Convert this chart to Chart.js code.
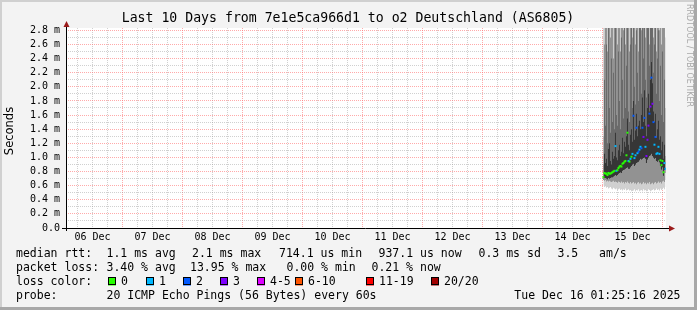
<!DOCTYPE html>
<html>
<head>
<meta charset="utf-8">
<script src="https://cdn.jsdelivr.net/npm/chart.js@4.4.1/dist/chart.umd.min.js"></script>
<style>
  html, body { margin: 0; padding: 0; background: #f3f3f3; }
  canvas { display: block; }
</style>
</head>
<body>
<canvas id="chart" width="697" height="310"></canvas>
<script>
// time axis in hours since 06 Dec 00:00, window = Dec 06 01:25 .. Dec 16 01:25
const rangeStart = 1 + 25 / 60;
const rangeEnd = 241 + 25 / 60;
const dayLabels = ['06 Dec', '07 Dec', '08 Dec', '09 Dec', '10 Dec', '11 Dec', '12 Dec', '13 Dec', '14 Dec', '15 Dec'];
const yMax = 2.833;

// one sample every 24 min, first one just after 15 Dec 00:00
const firstSample = 216.4;
const sampleStep = 0.4;

// median rtt (ms) and lost pings (of 20) per sample
const median = [0.72, 0.78, 0.77, 0.77, 0.75, 0.78, 0.77, 0.77, 0.78, 0.79, 0.80, 0.81, 1.16, 0.81, 0.82, 0.85,
  0.87, 0.88, 0.87, 0.91, 0.92, 0.94, 0.95, 1.03, 1.35, 0.95, 0.94, 0.98, 1.01, 1.05, 1.59, 0.99, 1.03, 1.42,
  1.06, 1.08, 1.11, 1.15, 1.13, 1.42, 1.29, 1.56, 1.15, 1.02, 1.25, 1.45, 1.62, 1.72, 2.13, 1.76, 1.50, 1.18,
  1.29, 1.05, 1.06, 1.15, 1.05, 0.96, 0.89, 0.95, 0.79, 0.92, 0.84];
const loss = [0, 0, 0, 0, 0, 0, 0, 0, 0, 0, 0, 0, 1, 1, 0, 0, 0, 0, 0, 0, 0, 0, 0, 0, 0,
  1, 0, 1, 0, 1, 2, 1, 1, 2, 1, 2, 1, 1, 2, 2, 3, 2, 1, 3, 3, 3, 2, 3, 2, 3, 2, 1, 2,
  1, 1, 1, 1, 0, 0, 0, 0, 1, 1];

// smoke: spread of the individual pings (ms), from the fastest outward layers to the core
const smokeMin = [0.60, 0.58, 0.59, 0.57, 0.58, 0.56, 0.57, 0.58, 0.56, 0.55, 0.57, 0.56, 0.55, 0.56, 0.54, 0.55,
  0.56, 0.54, 0.55, 0.53, 0.55, 0.54, 0.56, 0.53, 0.54, 0.55, 0.53, 0.54, 0.52, 0.54, 0.53, 0.55, 0.52, 0.54,
  0.53, 0.55, 0.52, 0.53, 0.54, 0.52, 0.55, 0.53, 0.54, 0.52, 0.53, 0.55, 0.54, 0.52, 0.53, 0.54, 0.55, 0.53,
  0.54, 0.56, 0.54, 0.55, 0.53, 0.56, 0.54, 0.55, 0.57, 0.55, 0.58];
const smokeLow = [0.68, 0.67, 0.68, 0.66, 0.67, 0.66, 0.67, 0.66, 0.65, 0.66, 0.67, 0.65, 0.66, 0.65, 0.64, 0.66,
  0.65, 0.64, 0.66, 0.64, 0.65, 0.63, 0.65, 0.64, 0.66, 0.64, 0.63, 0.65, 0.63, 0.64, 0.65, 0.63, 0.64, 0.62,
  0.64, 0.65, 0.63, 0.64, 0.62, 0.63, 0.65, 0.63, 0.64, 0.62, 0.64, 0.63, 0.65, 0.62, 0.63, 0.64, 0.62, 0.64,
  0.65, 0.63, 0.64, 0.66, 0.64, 0.65, 0.63, 0.66, 0.67, 0.65, 0.68];
const darkLow = [0.68, 0.71, 0.71, 0.70, 0.69, 0.71, 0.70, 0.71, 0.72, 0.72, 0.73, 0.74, 0.75, 0.74, 0.75, 0.77,
  0.78, 0.79, 0.78, 0.81, 0.82, 0.83, 0.84, 0.85, 0.86, 0.84, 0.84, 0.86, 0.88, 0.90, 0.91, 0.88, 0.90, 0.92,
  0.93, 0.94, 0.96, 0.98, 0.97, 0.98, 0.99, 1.00, 0.98, 0.92, 0.97, 1.00, 1.02, 1.03, 1.05, 1.02, 1.00, 0.98,
  0.99, 0.95, 0.94, 0.96, 0.93, 0.88, 0.83, 0.86, 0.74, 0.82, 0.78];
const darkHigh = [0.90, 1.05, 0.92, 0.98, 0.88, 1.12, 1.20, 0.95, 0.90, 1.08, 0.98, 1.02, 1.35, 1.00, 0.96, 1.10,
  1.18, 1.02, 1.08, 1.28, 1.06, 1.22, 1.15, 1.30, 1.55, 1.18, 1.10, 1.32, 1.40, 1.22, 1.80, 1.25, 1.38, 1.62,
  1.30, 1.45, 1.52, 1.40, 1.60, 1.85, 1.50, 1.95, 1.45, 1.30, 1.70, 1.90, 1.65, 2.10, 2.35, 2.05, 1.65, 1.50,
  1.62, 1.28, 1.40, 1.52, 1.25, 1.30, 1.10, 1.22, 0.98, 1.18, 1.02];
const smokeUpper = [1.30, 2.10, 1.45, 2.60, 1.20, 2.90, 1.70, 1.35, 2.40, 1.50, 2.20, 1.40, 2.95, 1.60, 1.45, 2.50,
  1.80, 1.40, 2.70, 2.10, 1.55, 2.90, 1.70, 2.30, 2.95, 1.65, 1.50, 2.60, 2.90, 1.70, 2.95, 2.00, 1.75, 2.80,
  2.20, 1.80, 2.90, 2.95, 1.90, 2.95, 2.40, 2.95, 2.10, 1.85, 2.90, 2.95, 2.30, 2.95, 3.00, 2.95, 2.20, 2.60,
  2.90, 1.90, 2.40, 2.80, 1.80, 2.30, 1.60, 2.50, 1.50, 2.10, 1.70];
const smokeHigh = [3.2, 2.6, 3.4, 3.1, 2.5, 3.6, 3.3, 2.7, 3.5, 3.0, 2.4, 3.8, 3.2, 2.9, 2.6, 3.4,
  3.7, 2.5, 3.3, 3.9, 2.8, 3.5, 2.6, 3.1, 4.0, 3.3, 2.5, 3.6, 3.8, 2.7, 4.1, 3.4, 2.6, 3.9,
  3.5, 2.5, 3.7, 4.0, 2.8, 4.2, 3.6, 4.4, 2.7, 3.1, 3.8, 4.1, 2.6, 4.5, 4.8, 3.9, 2.7, 3.5,
  3.7, 2.5, 3.2, 3.6, 2.8, 3.0, 2.6, 3.4, 2.9, 3.3, 2.7];
const smokeMax = [3.4, 4.1, 3.8, 5.2, 3.6, 6.0, 4.4, 3.9, 4.8, 3.5, 4.2, 5.5, 6.3, 4.0, 3.7, 4.6,
  5.1, 3.9, 4.3, 6.8, 4.5, 5.9, 4.1, 5.0, 7.2, 4.7, 3.8, 5.6, 6.1, 4.9, 7.5, 5.3, 4.6, 6.4,
  5.8, 4.4, 6.9, 7.1, 5.2, 8.0, 6.2, 8.4, 5.7, 4.8, 6.6, 7.7, 8.1, 9.0, 9.6, 8.3, 7.0, 6.0,
  6.7, 5.4, 5.0, 6.5, 5.1, 4.7, 4.2, 5.3, 3.9, 4.8, 4.3];

const lossLabels = ['0', '1', '2', '3', '4-5', '6-10', '11-19', '20/20'];
const lossColors = ['#26ff00', '#00b8ff', '#0059ff', '#7e00ff', '#dd00ff', '#ff5500', '#ff0000', '#a10000'];
const smokeShades = ['#d0d0d0', '#929292', '#6a6a6a', '#363636'];

const statsRtt = ['1.1 ms avg', '2.1 ms max', '714.1 us min', '937.1 us now', '0.3 ms sd', '3.5   am/s'];
const statsLoss = ['3.40 % avg', '13.95 % max', '0.00 % min', '0.21 % now'];

const MONO = '"DejaVu Sans Mono", monospace';
const majorGrid = 'rgba(255, 100, 100, 0.55)';
const minorGrid = 'rgba(150, 150, 150, 0.45)';

function pts(arr) {
  return arr.map((v, i) => ({ x: firstSample + i * sampleStep, y: v }));
}

function band(values, extra) {
  return Object.assign({
    data: pts(values), borderWidth: 0, pointRadius: 0, stepped: 'middle', fill: false
  }, extra || {});
}

const rrdText = {
  id: 'rrdText',
  beforeDraw(chart) {
    const ctx = chart.ctx, a = chart.chartArea;
    ctx.save();
    ctx.fillStyle = '#f3f3f3';
    ctx.fillRect(0, 0, chart.width, chart.height);
    ctx.fillStyle = '#d0d0d0';
    ctx.fillRect(0, 0, chart.width, 2);
    ctx.fillRect(0, 0, 2, chart.height);
    ctx.fillStyle = '#a8a8a8';
    ctx.fillRect(0, chart.height - 3, chart.width, 3);
    ctx.fillRect(chart.width - 3, 0, 3, chart.height);
    ctx.fillStyle = '#ffffff';
    ctx.fillRect(a.left, a.top, a.right - a.left, a.bottom - a.top);
    ctx.restore();
  },
  afterDraw(chart) {
    const ctx = chart.ctx, a = chart.chartArea;
    ctx.save();

    // axes with arrows
    ctx.strokeStyle = '#000';
    ctx.lineWidth = 1;
    ctx.beginPath();
    ctx.moveTo(a.left + 0.5, a.bottom + 3);
    ctx.lineTo(a.left + 0.5, a.top - 4);
    ctx.moveTo(a.left - 4, a.bottom + 0.5);
    ctx.lineTo(a.right + 3, a.bottom + 0.5);
    ctx.stroke();
    ctx.fillStyle = '#9b1b1b';
    ctx.beginPath();
    ctx.moveTo(a.left - 2.5, a.top - 1);
    ctx.lineTo(a.left + 3.5, a.top - 1);
    ctx.lineTo(a.left + 0.5, a.top - 7);
    ctx.closePath();
    ctx.fill();
    ctx.beginPath();
    ctx.moveTo(a.right + 3, a.bottom - 2.5);
    ctx.lineTo(a.right + 3, a.bottom + 3.5);
    ctx.lineTo(a.right + 9, a.bottom + 0.5);
    ctx.closePath();
    ctx.fill();

    // title
    ctx.fillStyle = '#000';
    ctx.textBaseline = 'middle';
    ctx.textAlign = 'center';
    ctx.font = '13.2px ' + MONO;
    ctx.fillText('Last 10 Days from 7e1e5ca966d1 to o2 Deutschland (AS6805)', 348, 19);

    // vertical axis title
    ctx.save();
    ctx.translate(10, 131);
    ctx.rotate(-Math.PI / 2);
    ctx.font = '11.5px "DejaVu Sans", sans-serif';
    ctx.fillText('Seconds', 0, 0);
    ctx.restore();

    // rrdtool watermark
    ctx.save();
    ctx.translate(689, 4);
    ctx.rotate(Math.PI / 2);
    ctx.textAlign = 'left';
    ctx.fillStyle = '#a8a8a8';
    ctx.font = '8px "DejaVu Sans", sans-serif';
    ctx.fillText('RRDTOOL / TOBI OETIKER', 0, 0);
    ctx.restore();

    // legend block
    ctx.textAlign = 'left';
    ctx.font = '11.5px ' + MONO;
    const rttX = [106.5, 192, 279, 378.5, 478.5, 557.5];
    const lossX = [106.5, 190, 286.5, 371.5];
    ctx.fillText('median rtt:', 16, 254.5);
    statsRtt.forEach((s, i) => ctx.fillText(s, rttX[i], 254.5));
    ctx.fillText('packet loss:', 16, 268.5);
    statsLoss.forEach((s, i) => ctx.fillText(s, lossX[i], 268.5));
    ctx.fillText('loss color:', 16, 282);
    const boxX = [108, 146, 183, 220, 257, 295, 366, 431];
    lossLabels.forEach((lab, i) => {
      ctx.fillStyle = lossColors[i];
      ctx.fillRect(boxX[i], 277.5, 8, 8);
      ctx.strokeStyle = '#000';
      ctx.strokeRect(boxX[i] + 0.5, 277.5, 7, 7);
      ctx.fillStyle = '#000';
      ctx.fillText(lab, boxX[i] + 13, 282);
    });
    ctx.fillText('probe:', 16, 296);
    ctx.fillText('20 ICMP Echo Pings (56 Bytes) every 60s', 106.5, 296);
    ctx.textAlign = 'right';
    ctx.fillText('Tue Dec 16 01:25:16 2025', 680.5, 296);
    ctx.restore();
  }
};

const xTicks = [];
for (let h = 6; h <= 240; h += 6) xTicks.push(h);
const yTicks = [];
for (let k = 0; k <= 28; k++) yTicks.push(k / 10);

new Chart(document.getElementById('chart'), {
  type: 'line',
  data: {
    datasets: [
      band(smokeMin),
      band(smokeMax, { fill: { target: 0 }, backgroundColor: smokeShades[0], order: 10 }),
      band(smokeLow),
      band(smokeHigh, { fill: { target: 2 }, backgroundColor: smokeShades[1], order: 9 }),
      band(darkLow),
      band(smokeUpper, { fill: { target: 4 }, backgroundColor: smokeShades[2], order: 8 }),
      band(darkHigh, { fill: { target: 4 }, backgroundColor: smokeShades[3], order: 7 }),
      {
        data: pts(median),
        showLine: false,
        pointStyle: 'rect',
        pointRadius: 1.4,
        pointBorderWidth: 0,
        pointBackgroundColor: c => lossColors[loss[c.dataIndex]],
        order: 0
      }
    ]
  },
  options: {
    responsive: false,
    animation: false,
    devicePixelRatio: 1,
    layout: { padding: { top: 28, right: 31, left: 0, bottom: 0 } },
    plugins: { legend: { display: false }, tooltip: { enabled: false } },
    scales: {
      x: {
        type: 'linear',
        min: rangeStart,
        max: rangeEnd,
        afterBuildTicks: s => { s.ticks = xTicks.map(v => ({ value: v })); },
        afterFit: s => { s.height = 82; },
        grid: {
          color: c => (c.tick && Math.round(c.tick.value) % 24 === 0) ? majorGrid : minorGrid,
          drawTicks: false
        },
        border: { display: false, dash: [1, 1] },
        ticks: {
          autoSkip: false,
          maxRotation: 0,
          padding: 3,
          color: '#000',
          font: { family: MONO, size: 10 },
          callback: v => (Math.round(v) % 24 === 12) ? dayLabels[(Math.round(v) - 12) / 24] : ''
        }
      },
      y: {
        min: 0,
        max: yMax,
        afterBuildTicks: s => { s.ticks = yTicks.map(v => ({ value: v })); },
        afterFit: s => { s.width = 66; },
        grid: {
          color: c => (c.tick && Math.round(c.tick.value * 10) % 2 === 0) ? majorGrid : minorGrid,
          drawTicks: false
        },
        border: { display: false, dash: [1, 1] },
        ticks: {
          autoSkip: false,
          padding: 6,
          color: '#000',
          font: { family: MONO, size: 10 },
          callback: v => {
            const k = Math.round(v * 10);
            if (k % 2) return '';
            return k === 0 ? '0.0' : (k / 10).toFixed(1) + ' m';
          }
        }
      }
    }
  },
  plugins: [rrdText]
});
</script>
</body>
</html>
